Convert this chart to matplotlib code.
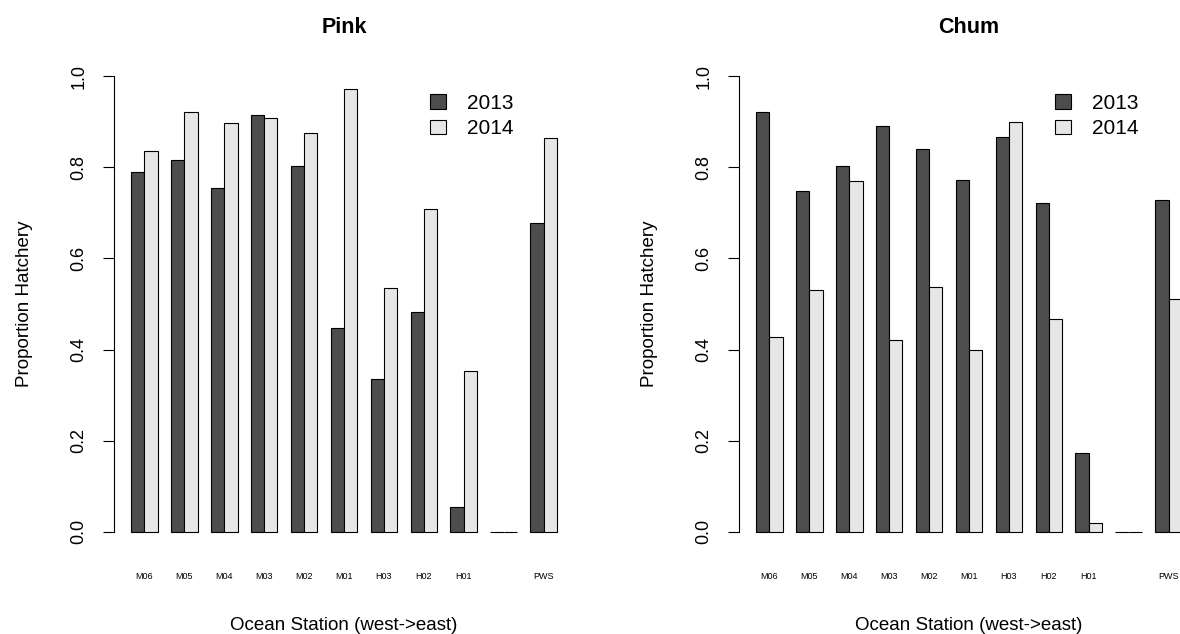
import numpy as np
import matplotlib
matplotlib.use("Agg")
import matplotlib.pyplot as plt
from matplotlib.patches import Patch

plt.rcParams['font.family'] = ['Liberation Sans', 'DejaVu Sans']

stations = ["M06", "M05", "M04", "M03", "M02", "M01", "H03", "H02", "H01", "", "PWS"]
years = ["2013", "2014"]

pink_2013 = [0.790, 0.817, 0.755, 0.915, 0.802, 0.447, 0.335, 0.483, 0.055, 0.0, 0.678]
pink_2014 = [0.835, 0.922, 0.897, 0.908, 0.876, 0.973, 0.535, 0.708, 0.353, 0.0, 0.864]

chum_2013 = [0.922, 0.748, 0.802, 0.890, 0.840, 0.773, 0.866, 0.722, 0.172, 0.0, 0.728]
chum_2014 = [0.428, 0.530, 0.770, 0.420, 0.538, 0.400, 0.900, 0.467, 0.020, 0.0, 0.510]

dark = "#4D4D4D"
light = "#E6E6E6"

W, H = 1180, 634
fig = plt.figure(figsize=(W / 100, H / 100), dpi=100)


def r_barplot(ax, v13, v14, title):
    n = len(stations)
    # R barplot(beside=TRUE): groups of 2 bars of width 1, gap of 1
    left = np.arange(n) * 3 + 1.0
    ax.bar(left, v13, width=1, align='edge', color=dark, edgecolor='black', linewidth=0.8)
    ax.bar(left + 1, v14, width=1, align='edge', color=light, edgecolor='black', linewidth=0.8)
    lo, hi = 1.0, n * 3.0
    ext = (hi - lo) * 0.04
    ax.set_xlim(lo - ext, hi + ext)
    ax.set_ylim(-0.04, 1.04)
    for s in ['top', 'right', 'bottom']:
        ax.spines[s].set_visible(False)
    ax.spines['left'].set_bounds(0, 1)
    ax.spines['left'].set_linewidth(0.8)
    ax.set_yticks([0, 0.2, 0.4, 0.6, 0.8, 1.0])
    ax.set_yticklabels(["0.0", "0.2", "0.4", "0.6", "0.8", "1.0"], rotation=90, va='center')
    ax.tick_params(axis='y', length=8, width=0.8, pad=11, labelsize=13)
    ax.set_xticks(left + 1)
    ax.set_xticklabels(stations)
    ax.tick_params(axis='x', length=0, pad=16, labelsize=6.5)
    ax.set_ylabel("Proportion Hatchery", fontsize=13.5)
    ax.yaxis.set_label_coords(-0.176, 0.5)
    ax.set_xlabel("Ocean Station (west->east)", fontsize=13.5)
    ax.xaxis.set_label_coords(0.5, -0.136)
    ax.set_title(title, fontsize=15.5, fontweight='bold', pad=18)
    handles = [Patch(facecolor=dark, edgecolor='black', linewidth=0.8),
               Patch(facecolor=light, edgecolor='black', linewidth=0.8)]
    ax.legend(handles, years, loc='upper left', bbox_to_anchor=(0.688, 0.927),
              frameon=False, fontsize=15, handlelength=0.75, handleheight=0.7,
              handletextpad=1.0, labelspacing=0.3, borderpad=0, borderaxespad=0)


ax1 = fig.add_axes([114 / W, 84 / H, 460 / W, 492 / H])
r_barplot(ax1, pink_2013, pink_2014, "Pink")

ax2 = fig.add_axes([739 / W, 84 / H, 460 / W, 492 / H])
r_barplot(ax2, chum_2013, chum_2014, "Chum")

fig.savefig("out.png", dpi=100)
